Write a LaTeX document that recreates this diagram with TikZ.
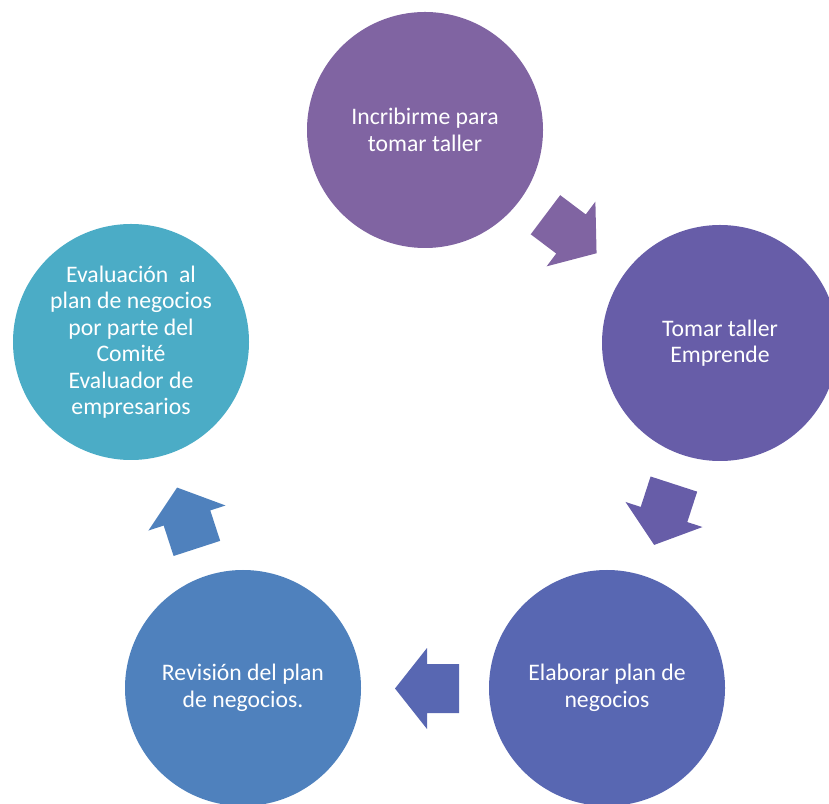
\documentclass[tikz,border=0pt]{standalone}
\usepackage{fontspec}
\setmainfont{Carlito}
\definecolor{cA}{RGB}{128,100,162}
\definecolor{cB}{RGB}{103,93,168}
\definecolor{cC}{RGB}{88,103,178}
\definecolor{cD}{RGB}{79,129,189}
\definecolor{cE}{RGB}{75,172,198}
\tikzset{
  stepcirc/.style={circle, minimum size=236pt, inner sep=0pt, draw=none,
    text=white, align=center, font=\fontsize{23.7}{26.5}\selectfont},
  blockarrow/.pic={\fill (-32,-24.5) -- (0,-24.5) -- (0,-40.5) -- (32,0)
      -- (0,40.5) -- (0,24.5) -- (-32,24.5) -- cycle;}
}
\begin{document}
\begin{tikzpicture}[x=1pt,y=1pt]
\useasboundingbox (0,0) rectangle (829,803);
\clip (0,0) rectangle (829,803);
\node[stepcirc, fill=cA] (n1) at (425,673) {Incribirme para\\tomar taller};
\node[stepcirc, fill=cB] (n2) at (720,460) {Tomar taller\\Emprende};
\node[stepcirc, fill=cC] (n3) at (607,115) {Elaborar plan de\\negocios};
\node[stepcirc, fill=cD] (n4) at (243,115) {Revisión del plan\\de negocios.};
\node[stepcirc, fill=cE] (n5) at (131,461) {Evaluación\ \ al\\plan de negocios\\por parte del\\Comité\\Evaluador de\\empresarios};
\pic[rotate=-37, fill=cA, draw=none] (a1) at (571,569) {blockarrow};
\pic[rotate=-108, fill=cB, draw=none] (a2) at (664,288.5) {blockarrow};
\pic[rotate=180, fill=cC, draw=none] (a3) at (427,114.5) {blockarrow};
\pic[rotate=108, fill=cD, draw=none] (a4) at (187,285) {blockarrow};
\end{tikzpicture}
\end{document}
